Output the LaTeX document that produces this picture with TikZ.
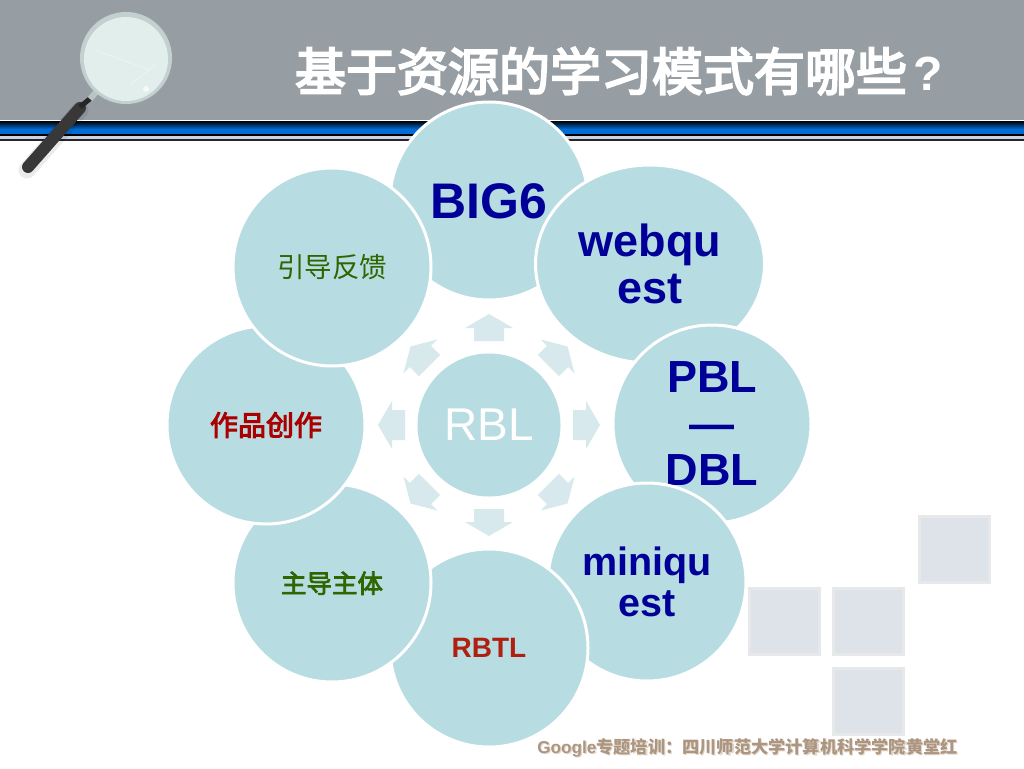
\documentclass[tikz,border=0pt]{standalone}
\usepackage{fontspec}
\setmainfont{Liberation Sans}
\newfontfamily\cjk{Noto Sans CJK SC}
\newfontfamily\cjkheavy{Noto Sans CJK SC}[FakeBold=4]
\newfontfamily\cjkstrong{Noto Sans CJK SC}[FakeBold=3.5]
\newfontfamily\cjkmid{Noto Sans CJK SC}[FakeBold=3]
\usetikzlibrary{shapes.geometric}
\definecolor{disc}{HTML}{B7DCE2}
\definecolor{arrowfill}{HTML}{D7E9ED}
\definecolor{navy}{HTML}{000099}
\definecolor{band}{HTML}{979EA3}
\definecolor{sq}{HTML}{DEE3E9}
\definecolor{sqedge}{HTML}{E6E8EA}
\definecolor{barblue}{HTML}{006CD6}
\definecolor{barlight}{HTML}{CDD2E6}
\definecolor{lensrim}{HTML}{C3D0D0}
\definecolor{lens}{HTML}{E1EEEB}
\definecolor{collar}{HTML}{B9C3C3}
\definecolor{rbtlred}{HTML}{B02010}
\definecolor{leafgreen}{HTML}{2E6600}
\definecolor{darkred}{HTML}{AA0000}
\definecolor{footbrown}{HTML}{AC9680}
\definecolor{footshadow}{HTML}{E1D7CD}
\newcommand{\fs}[2]{\fontsize{#1}{#2}\selectfont}
\tikzset{
  x=1pt,y=-1pt,
  petal/.style={circle,fill=disc,draw=white,line width=3pt,minimum size=198pt,inner sep=0pt,align=center,text=navy},
  widepetal/.style={ellipse,fill=disc,draw=white,line width=3pt,minimum width=229pt,minimum height=198pt,inner sep=0pt,align=center,text=navy},
  hub/.style={circle,fill=disc,minimum size=143pt,inner sep=0pt,text=white},
  tile/.style={minimum width=70pt,minimum height=66pt,inner sep=0pt,fill=sq,draw=sqedge,line width=3pt,outer sep=0pt},
  blockarrow/.style={fill=arrowfill,draw=none},
}
\begin{document}
\begin{tikzpicture}
\useasboundingbox (0,0) rectangle (1024,768);
\fill[white] (0,0) rectangle (1024,768);
% header
\fill[band] (0,0) rectangle (1024,120);
\shade[top color=black,bottom color=barblue] (0,121) rectangle (1024,129);
\fill[barblue] (0,129) rectangle (1024,134);
\fill[black] (0,134) rectangle (1024,136);
\fill[barlight] (0,136) rectangle (1024,139);
\fill[black!85] (0,139) rectangle (1024,141);
% magnifier
\draw[black,opacity=.08,line width=17pt,line cap=round] (80,110) -- (27,170);
\draw[black!78,line width=12pt,line cap=round] (80,108) -- (28,167);
\draw[black!85,line width=5pt] (80,107) -- (92,97);
\draw[collar,line width=6pt] (90,99) -- (97,91);
\fill[lensrim] (126,58) circle (46);
\fill[lens] (126,59) circle (42);
\draw[white,opacity=.4,line width=.8pt] (95,50) -- (150,70);
\draw[white,opacity=.4,line width=.8pt] (130,85) -- (155,65);
\fill[white,opacity=.7] (146,89) circle (3);
% title
\node[anchor=center,text=white,inner sep=0pt] (title) at (622,71) {\cjkheavy\fs{51}{51}基于资源的学习模式有哪些\makebox[42pt]{\normalfont\bfseries\fs{48}{48}?}};
% petals
\node[petal] (big) at (489,201) {\bfseries\fs{50}{50}BIG6};
\node[widepetal,font=\bfseries\fs{45}{47}] (web) at (650,264) {webqu\\est};
\node[petal,font=\bfseries\fs{45}{46.5}] (pbl) at (712,424) {PBL\\—\\DBL};
\node[petal,font=\bfseries\fs{39.5}{41}] (mini) at (647,582) {miniqu\\est};
\node[petal,text=rbtlred] (rbtl) at (489,648) {\bfseries\fs{28}{30}RBTL};
\node[petal,text=leafgreen,text depth=0pt] (zd) at (332,583) {\raisebox{1.5pt}{\cjkmid\fs{25.5}{27}主导主体}};
\node[petal,text=darkred] (zp) at (266,425) {\cjkstrong\fs{28}{30}作品创作};
\node[petal,text=leafgreen] (yd) at (332,267) {\raisebox{1pt}{\cjk\fs{27.5}{29}引导反馈}};
% hub
\node[hub] (rbl) at (489,425) {\fs{46}{48}RBL};
% block arrows
\foreach \a in {0,45,...,315}{
  \fill[blockarrow,shift={(rbl.center)},rotate=\a]
    (0,-84) -- (15,-84) -- (15,-97) -- (24,-97) -- (0,-111) -- (-24,-97) -- (-15,-97) -- (-15,-84) -- cycle;
}
% tiles
\node[tile] (t1) at (784,621) {};
\node[tile] (t2) at (868,621) {};
\node[tile] (t3) at (868,701) {};
\node[tile] (t4) at (954,549) {};
% footer
\node[text=footshadow,inner sep=0pt] (shadowtxt) at (748.7,749) {\bfseries\fs{17.2}{18}Google\cjk\bfseries 专题培训：四川师范大学计算机科学学院黄堂红};
\node[text=footbrown,inner sep=0pt] (footer) at (747.5,748) {\bfseries\fs{17.2}{18}Google\cjk\bfseries 专题培训：四川师范大学计算机科学学院黄堂红};
\end{tikzpicture}
\end{document}
